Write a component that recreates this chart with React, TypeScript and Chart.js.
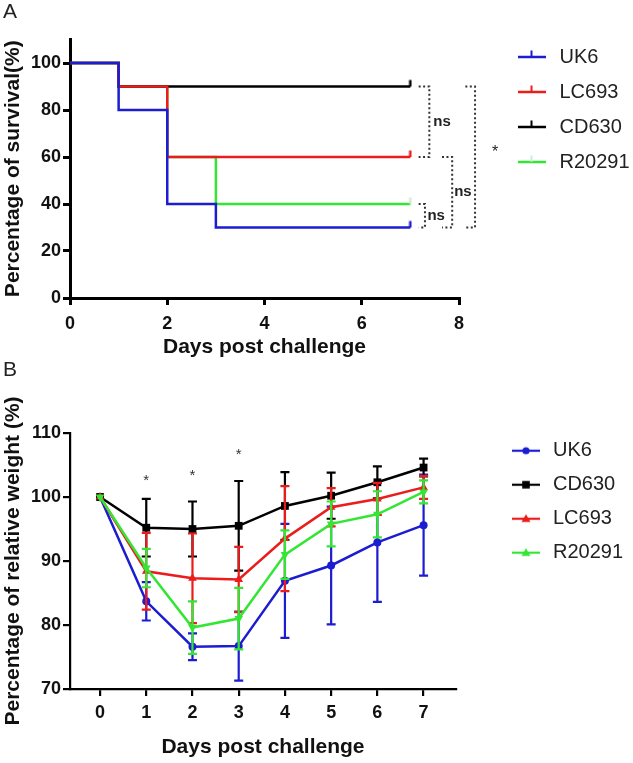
import React, { useEffect, useRef } from 'react';
import { Chart, registerables } from 'chart.js';

Chart.register(...registerables);

const FONT = '"Liberation Sans", Arial, Helvetica, sans-serif';

// ---------- Panel A: survival ----------
const survivalNames = ['UK6', 'LC693', 'CD630', 'R20291'];
const survivalColors = ['#1c1cd0', '#ea1c1c', '#000000', '#33e633'];
const uk6SurvDays = [0, 1, 2, 3, 7];
const uk6Survival = [100, 80, 40, 30, 30];
const lc693SurvDays = [0, 1, 2, 7];
const lc693Survival = [100, 90, 60, 60];
const cd630SurvDays = [0, 1, 7];
const cd630Survival = [100, 90, 90];
const r20291SurvDays = [0, 1, 2, 3, 7];
const r20291Survival = [100, 90, 60, 40, 40];

const comparisonTops = [90, 60, 40, 90];
const comparisonBottoms = [60, 30, 30, 30];
const comparisonLabels = ['ns', 'ns', 'ns', '*'];

// ---------- Panel B: relative weight ----------
const weightDays = [0, 1, 2, 3, 4, 5, 6, 7];
const weightNames = ['UK6', 'CD630', 'LC693', 'R20291'];
const weightColors = ['#1c1cd0', '#000000', '#ea1c1c', '#33e633'];
const uk6Weight = [100, 83.7, 76.6, 76.7, 86.9, 89.3, 92.9, 95.6];
const uk6Sd = [0, 3.0, 2.1, 5.4, 8.9, 9.2, 9.3, 7.9];
const cd630Weight = [100, 95.2, 95.0, 95.5, 98.6, 100.2, 102.3, 104.6];
const cd630Sd = [0, 4.5, 4.3, 7.0, 5.3, 3.6, 2.5, 1.4];
const lc693Weight = [100, 88.4, 87.3, 87.1, 93.5, 98.4, 99.7, 101.5];
const lc693Sd = [0, 6.0, 7.0, 5.1, 8.2, 3.0, 2.5, 1.8];
const r20291Weight = [100, 88.9, 79.6, 81.0, 91.0, 95.8, 97.3, 100.8];
const r20291Sd = [0, 3.0, 4.1, 4.8, 3.8, 3.5, 3.6, 1.8];
const starDays = [1, 2, 3];
const starLevels = [103.0, 103.75, 107.0];

const survDays = [uk6SurvDays, lc693SurvDays, cd630SurvDays, r20291SurvDays];
const survVals = [uk6Survival, lc693Survival, cd630Survival, r20291Survival];
const weightVals = [uk6Weight, cd630Weight, lc693Weight, r20291Weight];
const weightSds = [uk6Sd, cd630Sd, lc693Sd, r20291Sd];

// bracket geometry (in day units of the x scale)
const bracketGeom = [
  { inner: 7.17, outer: 7.39, text: 7.47 },
  { inner: 7.65, outer: 7.86, text: 7.9 },
  { inner: 7.17, outer: 7.3, text: 7.35 },
  { inner: 8.13, outer: 8.33, text: 8.68 },
];

function makeCanvas(w: number, h: number, draw: (g: CanvasRenderingContext2D) => void) {
  const c = document.createElement('canvas');
  c.width = w;
  c.height = h;
  const g = c.getContext('2d')!;
  draw(g);
  return c;
}

function drawMarker(g: CanvasRenderingContext2D, kind: number, cx: number, cy: number, color: string) {
  g.fillStyle = color;
  g.beginPath();
  if (kind === 0) {
    g.arc(cx, cy, 3.6, 0, Math.PI * 2);
  } else if (kind === 1) {
    g.rect(cx - 3.8, cy - 3.8, 7.6, 7.6);
  } else if (kind === 2) {
    g.moveTo(cx, cy - 4.5);
    g.lineTo(cx + 4.5, cy + 3.2);
    g.lineTo(cx - 4.5, cy + 3.2);
    g.closePath();
  } else {
    g.moveTo(cx, cy + 4.5);
    g.lineTo(cx + 4.5, cy - 3.2);
    g.lineTo(cx - 4.5, cy - 3.2);
    g.closePath();
  }
  g.fill();
}

const bracketPlugin = {
  id: 'brackets',
  afterDraw(chart: any) {
    const { ctx, scales } = chart;
    const x = scales.x;
    const y = scales.y;
    ctx.save();
    comparisonLabels.forEach((label, i) => {
      const gm = bracketGeom[i];
      const xi = x.getPixelForValue(gm.inner);
      const xo = x.getPixelForValue(gm.outer);
      const y1 = y.getPixelForValue(comparisonTops[i]);
      const y2 = y.getPixelForValue(comparisonBottoms[i]);
      ctx.setLineDash([2, 2.5]);
      ctx.lineWidth = 2;
      ctx.strokeStyle = '#333';
      ctx.beginPath();
      ctx.moveTo(xi, y1);
      ctx.lineTo(xo, y1);
      ctx.lineTo(xo, y2);
      ctx.lineTo(xi, y2);
      ctx.stroke();
      ctx.setLineDash([]);
      const ym = (y1 + y2) / 2;
      ctx.fillStyle = '#222';
      ctx.textAlign = 'left';
      ctx.textBaseline = 'middle';
      if (label === '*') {
        ctx.font = `16px ${FONT}`;
        ctx.fillText(label, x.getPixelForValue(gm.text), ym - 4);
      } else {
        ctx.font = `bold 15px ${FONT}`;
        ctx.fillText(label, x.getPixelForValue(gm.text), ym);
      }
    });
    ctx.restore();
  },
};

const errorBarPlugin = {
  id: 'errorBars',
  beforeDatasetDraw(chart: any, args: any) {
    const i = args.index;
    const { ctx, scales } = chart;
    const x = scales.x;
    const y = scales.y;
    ctx.save();
    ctx.strokeStyle = weightColors[i];
    ctx.lineWidth = 2.2;
    weightSds[i].forEach((sd, j) => {
      if (!sd) return;
      const px = x.getPixelForValue(weightDays[j]);
      const top = y.getPixelForValue(weightVals[i][j] + sd);
      const bot = y.getPixelForValue(weightVals[i][j] - sd);
      ctx.beginPath();
      ctx.moveTo(px, top);
      ctx.lineTo(px, bot);
      ctx.moveTo(px - 4.5, top);
      ctx.lineTo(px + 4.5, top);
      ctx.moveTo(px - 4.5, bot);
      ctx.lineTo(px + 4.5, bot);
      ctx.stroke();
    });
    ctx.restore();
  },
  afterDraw(chart: any) {
    const { ctx, scales } = chart;
    ctx.save();
    ctx.fillStyle = '#333';
    ctx.font = `15px ${FONT}`;
    ctx.textAlign = 'center';
    ctx.textBaseline = 'middle';
    starDays.forEach((d, k) => {
      ctx.fillText('*', scales.x.getPixelForValue(d), scales.y.getPixelForValue(starLevels[k]) + 3);
    });
    ctx.restore();
  },
};

const tickFont = { family: FONT, size: 18, weight: 'bold' as const };
const axisTitleFont = { family: FONT, size: 21, weight: 'bold' as const };

function axisCommon(width: number) {
  return {
    grid: { display: true, drawOnChartArea: false, drawTicks: true, tickLength: 7, color: '#000', lineWidth: width },
    border: { display: true, color: '#000', width },
  };
}

export default function App() {
  const refA = useRef<HTMLCanvasElement>(null);
  const refB = useRef<HTMLCanvasElement>(null);

  useEffect(() => {
    const censorIcons = survivalColors.map((c, i) =>
      makeCanvas(4, 16, (g) => {
        g.strokeStyle = i === 3 ? 'rgba(200,230,200,0.8)' : c;
        g.lineWidth = 2.5;
        g.beginPath();
        g.moveTo(2, 1.5);
        g.lineTo(2, 8);
        g.stroke();
      })
    );
    const legendIconsA = survivalColors.map((c, i) =>
      makeCanvas(28, 16, (g) => {
        g.strokeStyle = c;
        g.lineWidth = 2.5;
        g.beginPath();
        g.moveTo(0, 8);
        g.lineTo(28, 8);
        g.stroke();
        g.strokeStyle = i === 3 ? 'rgba(200,230,200,0.8)' : c;
        g.lineWidth = 2;
        g.beginPath();
        g.moveTo(14, 8);
        g.lineTo(14, 1.5);
        g.stroke();
      })
    );
    const legendIconsB = weightColors.map((c, i) =>
      makeCanvas(28, 14, (g) => {
        g.strokeStyle = c;
        g.lineWidth = 2.2;
        g.beginPath();
        g.moveTo(0, 7);
        g.lineTo(28, 7);
        g.stroke();
        drawMarker(g, i, 14, 7, c);
      })
    );

    const chartA = new Chart(refA.current!, {
      type: 'line',
      data: {
        datasets: survivalNames.map((label, i) => {
          const last = survDays[i].length - 1;
          return {
            label,
            data: survDays[i].map((d, j) => ({ x: d, y: survVals[i][j] })),
            borderColor: survivalColors[i],
            backgroundColor: survivalColors[i],
            borderWidth: 2.5,
            stepped: 'before',
            fill: false,
            pointRadius: (c: any) => (c.dataIndex === last ? 4 : 0),
            pointHoverRadius: (c: any) => (c.dataIndex === last ? 4 : 0),
            pointStyle: (c: any) => (c.dataIndex === last ? censorIcons[i] : 'circle'),
            pointBorderWidth: 0,
          } as any;
        }),
      },
      options: {
        responsive: false,
        animation: false,
        devicePixelRatio: 1,
        events: [],
        layout: { padding: { left: 3, right: 0, top: 0, bottom: 0 } },
        plugins: {
          title: {
            display: true,
            text: 'A',
            align: 'start',
            color: '#222',
            font: { family: FONT, size: 21, weight: 'normal', lineHeight: 1 },
            padding: { top: 2, bottom: 16.5 },
          },
          legend: {
            position: 'right',
            align: 'start',
            maxWidth: 134.5,
            title: { display: true, text: ' ', font: { size: 10, lineHeight: 1.2 }, padding: { top: 0, bottom: 20 } },
            labels: {
              usePointStyle: true,
              pointStyleWidth: 36,
              padding: 15,
              color: '#222',
              font: { family: FONT, size: 20 },
              generateLabels: (chart: any) => {
                const items = (Chart.defaults.plugins.legend.labels as any).generateLabels(chart);
                items.forEach((it: any) => {
                  it.pointStyle = legendIconsA[it.datasetIndex];
                });
                return items;
              },
            },
          },
          tooltip: { enabled: false },
        },
        scales: {
          x: {
            type: 'linear',
            min: 0,
            max: 8,
            ...axisCommon(3),
            ticks: { stepSize: 2, includeBounds: false, font: tickFont, color: '#111', padding: 8, maxRotation: 0 },
            title: { display: true, text: 'Days post challenge', font: axisTitleFont, color: '#111', padding: { top: 0, bottom: 0 } },
            afterFit: (s: any) => {
              s.height = 62;
            },
          },
          y: {
            type: 'linear',
            min: 0,
            max: 110,
            ...axisCommon(3),
            ticks: { stepSize: 20, includeBounds: false, font: tickFont, color: '#111', padding: 2 },
            afterBuildTicks: (s: any) => {
              s.ticks = s.ticks.filter((t: any) => t.value <= 100);
            },
            title: {
              display: true,
              text: 'Percentage of survival(%)',
              font: { ...axisTitleFont, lineHeight: 1 },
              color: '#111',
              padding: { top: 0, bottom: 0 },
            },
            afterFit: (s: any) => {
              s.width = 67;
            },
          },
          y2: {
            type: 'linear',
            position: 'right',
            display: true,
            grid: { display: false },
            border: { display: false },
            ticks: { display: false },
            afterFit: (s: any) => {
              s.width = 39.5;
            },
          },
        },
      } as any,
      plugins: [bracketPlugin],
    });

    const chartB = new Chart(refB.current!, {
      type: 'line',
      data: {
        datasets: weightNames.map((label, i) => ({
          label,
          data: weightDays.map((d, j) => ({ x: d, y: weightVals[i][j] })),
          borderColor: weightColors[i],
          backgroundColor: weightColors[i],
          borderWidth: 2.5,
          fill: false,
          tension: 0,
          order: 4 - i,
          pointStyle: ['circle', 'rect', 'triangle', 'triangle'][i],
          pointRotation: i === 3 ? 180 : 0,
          pointRadius: [4, 5.5, 5, 5][i],
          pointHoverRadius: [4, 5.5, 5, 5][i],
          pointBorderWidth: 0,
        })) as any,
      },
      options: {
        responsive: false,
        animation: false,
        devicePixelRatio: 1,
        events: [],
        layout: { padding: { left: 3, right: 0, top: 0, bottom: 3.4 } },
        plugins: {
          title: {
            display: true,
            text: 'B',
            align: 'start',
            color: '#222',
            font: { family: FONT, size: 21, weight: 'normal', lineHeight: 1 },
            padding: { top: 0, bottom: 52 },
          },
          legend: {
            position: 'right',
            align: 'start',
            maxWidth: 140,
            title: { display: true, text: ' ', font: { size: 10, lineHeight: 1.2 }, padding: { top: 0, bottom: 54.7 } },
            labels: {
              usePointStyle: true,
              pointStyleWidth: 34,
              padding: 14,
              color: '#222',
              font: { family: FONT, size: 20 },
              sort: (a: any, b: any) => a.datasetIndex - b.datasetIndex,
              generateLabels: (chart: any) => {
                const items = (Chart.defaults.plugins.legend.labels as any).generateLabels(chart);
                items.forEach((it: any) => {
                  it.pointStyle = legendIconsB[it.datasetIndex];
                });
                return items;
              },
            },
          },
          tooltip: { enabled: false },
        },
        scales: {
          x: {
            type: 'linear',
            min: -0.65,
            max: 7.7,
            ...axisCommon(2.2),
            ticks: { stepSize: 1, includeBounds: false, font: tickFont, color: '#111', padding: 6, maxRotation: 0 },
            afterBuildTicks: (s: any) => {
              s.ticks = s.ticks.filter((t: any) => t.value >= 0 && t.value <= 7 && Number.isInteger(t.value));
            },
            title: { display: true, text: 'Days post challenge', font: axisTitleFont, color: '#111', padding: { top: 0, bottom: 0 } },
            afterFit: (s: any) => {
              s.height = 70.6;
            },
          },
          y: {
            type: 'linear',
            min: 70,
            max: 110,
            ...axisCommon(2.2),
            ticks: { stepSize: 10, font: tickFont, color: '#111', padding: 2 },
            title: {
              display: true,
              text: 'Percentage of relative weight (%)',
              font: { ...axisTitleFont, lineHeight: 1 },
              color: '#111',
              padding: { top: 0, bottom: 0 },
            },
            afterFit: (s: any) => {
              s.width = 67;
            },
          },
          y2: {
            type: 'linear',
            position: 'right',
            display: true,
            grid: { display: false },
            border: { display: false },
            ticks: { display: false },
            afterFit: (s: any) => {
              s.width = 39;
            },
          },
        },
      } as any,
      plugins: [errorBarPlugin],
    });

    return () => {
      chartA.destroy();
      chartB.destroy();
    };
  }, []);

  return (
    <div style={{ position: 'absolute', left: 0, top: 0, width: 633, height: 763, background: '#fff' }}>
      <canvas ref={refA} width={633} height={360} style={{ position: 'absolute', left: 0, top: 0 }} />
      <canvas ref={refB} width={633} height={403} style={{ position: 'absolute', left: 0, top: 360 }} />
    </div>
  );
}
